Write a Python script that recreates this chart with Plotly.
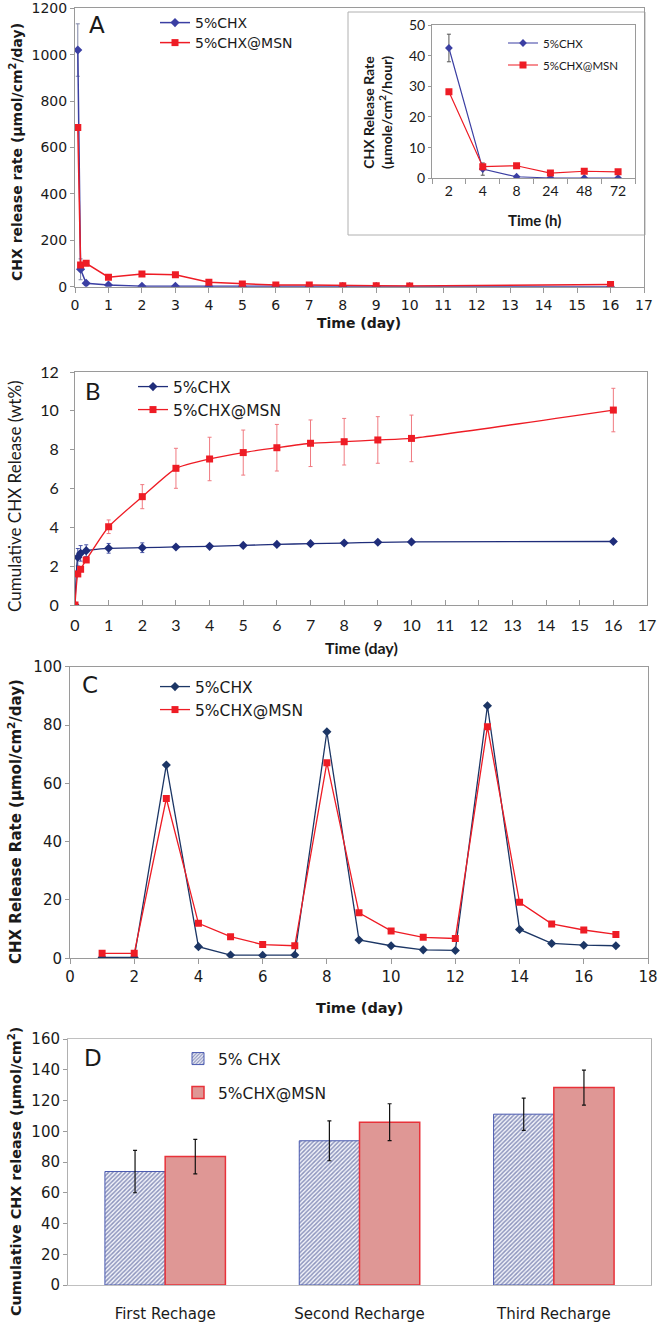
import plotly.graph_objects as go

W, H = 658, 1323

# ---------------- data ----------------
# Panel A (day)
a_x = [2/24, 4/24, 8/24, 1, 2, 3, 4, 5, 6, 7, 8, 9, 10, 16]
a_chx = [1020, 75, 15, 7, 2, 1.5, 1, 1, 1, 1, 1, 1, 1, 0]
a_chx_err = [113, 45, 0, 0, 0, 0, 0, 0, 0, 0, 0, 0, 0, 0]
a_msn = [686, 94, 101, 41, 55, 51, 19, 12, 7, 7, 4, 4, 3.5, 10]

# Panel A inset (hour)
in_x = ["2", "4", "8", "24", "48", "72"]
in_chx = [42.5, 3.0, 0.5, 0.1, 0.1, 0.1]
in_chx_err = [4.5, 2.0, 0, 0, 0, 0]
in_msn = [28.2, 3.8, 4.1, 1.7, 2.3, 2.1]

# Panel B
b_x = [0, 2/24, 4/24, 8/24, 1, 2, 3, 4, 5, 6, 7, 8, 9, 10, 16]
b_chx = [0, 2.46, 2.66, 2.8, 2.92, 2.95, 2.99, 3.02, 3.07, 3.12, 3.16, 3.19, 3.23, 3.25, 3.27]
b_chx_err = [0, 0.45, 0.4, 0.3, 0.25, 0.25, 0, 0, 0, 0, 0, 0, 0, 0, 0]
b_msn = [0, 1.6, 1.84, 2.32, 4.03, 5.58, 7.04, 7.52, 7.85, 8.1, 8.33, 8.41, 8.5, 8.58, 10.04]
b_msn_err = [0, 0, 0, 0, 0.35, 0.62, 1.03, 1.12, 1.16, 1.2, 1.2, 1.2, 1.2, 1.2, 1.12]

# Panel C
c_x = list(range(1, 18))
c_chx = [0.3, 0.3, 66.3, 4.0, 1.1, 1.0, 1.1, 77.7, 6.3, 4.3, 2.9, 2.7, 86.6, 9.9, 5.1, 4.5, 4.3]
c_msn = [1.7, 1.7, 54.8, 12.0, 7.4, 4.7, 4.3, 67.1, 15.6, 9.4, 7.2, 6.8, 79.4, 19.2, 11.8, 9.7, 8.2]

# Panel D
d_cat = ["First Rechage", "Second Recharge", "Third Recharge"]
d_chx = [73.8, 93.8, 111.1]
d_chx_err = [13.8, 13.0, 10.5]
d_msn = [83.5, 105.9, 128.4]
d_msn_err = [11.2, 12.0, 11.4]

# ---------------- styling ----------------
SANS = "DejaVu Sans, Liberation Sans, Arial, sans-serif"
CAL = "Lato, Open Sans, sans-serif"
BLUE_A = "#3b3fa3"
NAVY = "#1f2d7a"
NAVY_C = "#1c3665"
RED = "#ee1c25"
GRAY = "#9a9a9a"
TXT = "#1a1a1a"


def dx(l, r):
    return [l / W, r / W]


def dy(t, b):
    return [1 - b / H, 1 - t / H]


fig = go.Figure()

# ---- Panel A ----
fig.add_trace(go.Scatter(x=a_x, y=a_chx, mode="lines+markers", name="5%CHX",
                         line=dict(color=BLUE_A, width=1.5),
                         marker=dict(symbol="diamond", size=7, color=BLUE_A),
                         error_y=dict(type="data", array=a_chx_err, color="#7f86a8", thickness=1, width=2),
                         xaxis="x", yaxis="y", legend="legend"))
fig.add_trace(go.Scatter(x=a_x, y=a_msn, mode="lines+markers", name="5%CHX@MSN",
                         line=dict(color=RED, width=1.5),
                         marker=dict(symbol="square", size=7, color=RED),
                         xaxis="x", yaxis="y", legend="legend2"))

# ---- Inset ----
fig.add_trace(go.Scatter(x=in_x, y=in_chx, mode="lines+markers", name="5%CHX",
                         line=dict(color=BLUE_A, width=1.2),
                         marker=dict(symbol="diamond", size=6, color=BLUE_A),
                         error_y=dict(type="data", array=in_chx_err, color="#555", thickness=1, width=2),
                         xaxis="x5", yaxis="y5", legend="legend3"))
fig.add_trace(go.Scatter(x=in_x, y=in_msn, mode="lines+markers", name="5%CHX@MSN",
                         line=dict(color=RED, width=1.2),
                         marker=dict(symbol="square", size=7, color=RED),
                         xaxis="x5", yaxis="y5", legend="legend4"))

# ---- Panel B ----
fig.add_trace(go.Scatter(x=b_x, y=b_chx, mode="lines+markers", name="5%CHX",
                         line=dict(color=NAVY, width=1.3, shape="spline", smoothing=0.5),
                         marker=dict(symbol="diamond", size=7, color=NAVY),
                         error_y=dict(type="data", array=b_chx_err, color="#4a56a8", thickness=1, width=2),
                         xaxis="x2", yaxis="y2", legend="legend5"))
fig.add_trace(go.Scatter(x=b_x, y=b_msn, mode="lines+markers", name="5%CHX@MSN",
                         line=dict(color=RED, width=1.3, shape="spline", smoothing=0.5),
                         marker=dict(symbol="square", size=7, color=RED),
                         error_y=dict(type="data", array=b_msn_err, color="#f07a80", thickness=1, width=2),
                         xaxis="x2", yaxis="y2", legend="legend6"))

# ---- Panel C ----
fig.add_trace(go.Scatter(x=c_x, y=c_chx, mode="lines+markers", name="5%CHX",
                         line=dict(color=NAVY_C, width=1.3),
                         marker=dict(symbol="diamond", size=7, color=NAVY_C),
                         xaxis="x3", yaxis="y3", legend="legend7"))
fig.add_trace(go.Scatter(x=c_x, y=c_msn, mode="lines+markers", name="5%CHX@MSN",
                         line=dict(color=RED, width=1.3),
                         marker=dict(symbol="square", size=7, color=RED),
                         xaxis="x3", yaxis="y3", legend="legend8"))

# ---- Panel D ----
fig.add_trace(go.Bar(x=d_cat, y=d_chx, name="5% CHX",
                     marker=dict(color="white", line=dict(color="#4a5ab0", width=1),
                                 pattern=dict(shape="/", fgcolor="#25337f", bgcolor="#f4f5fb", size=3, solidity=0.5)),
                     error_y=dict(type="data", array=d_chx_err, color="#111", thickness=1.2, width=2),
                     xaxis="x4", yaxis="y4", legend="legend9", offsetgroup="a"))
fig.add_trace(go.Bar(x=d_cat, y=d_msn, name="5%CHX@MSN",
                     marker=dict(color="#df9795", line=dict(color="#e8323a", width=1.5)),
                     error_y=dict(type="data", array=d_msn_err, color="#111", thickness=1.2, width=2),
                     xaxis="x4", yaxis="y4", legend="legend10", offsetgroup="b"))


def axis_common(font, size=14, ticks="outside"):
    return dict(showline=True, linecolor=GRAY, linewidth=1, mirror=True, showgrid=False,
                zeroline=False, ticks=ticks, ticklen=4, tickcolor=GRAY,
                tickfont=dict(family=font, size=size, color=TXT), automargin=False)


xa = axis_common(SANS, 14)
xa.update(domain=dx(75, 644), anchor="y", range=[0, 17], dtick=1, ticklen=5)
ya = axis_common(SANS, 14)
ya.update(domain=dy(8.3, 286.7), anchor="x", range=[0, 1200], dtick=200, ticklen=4)

x5 = axis_common(CAL, 14)
x5.update(domain=dx(432, 635), anchor="y5", type="category", tickson="boundaries", range=[-0.5, 5.5], ticklen=5)
y5 = axis_common(CAL, 14)
y5.update(domain=dy(25, 178.3), anchor="x5", range=[0, 50], dtick=10, ticklen=3)

x2 = axis_common(CAL, 16, ticks="inside")
x2.update(domain=dx(75, 647), anchor="y2", range=[0, 17], dtick=1, ticklen=5, ticklabelstandoff=6)
y2 = axis_common(CAL, 16)
y2.update(domain=dy(372, 605), anchor="x2", range=[0, 12], dtick=2, ticklen=4, ticklabelstandoff=8)

x3 = axis_common(SANS, 15)
x3.update(domain=dx(70, 648), anchor="y3", range=[0, 18], dtick=2, ticklen=5)
y3 = axis_common(SANS, 15)
y3.update(domain=dy(666.7, 958.3), anchor="x3", range=[0, 100], dtick=20, ticklen=4)

x4 = axis_common(SANS, 15)
x4.update(domain=dx(68, 651), anchor="y4", ticks="outside", ticklen=15, tickcolor="rgba(0,0,0,0)",
          linecolor="#c0c0c0")
y4 = axis_common(SANS, 15)
y4.update(domain=dy(1039, 1285), anchor="x4", range=[0, 160], dtick=20, ticklen=4, linecolor="#b0b0b0")


def leg(text_x, row_y, font, size):
    # one legend entry per legend box; text starts ~40px right of the box's left edge
    return dict(x=(text_x - 40) / W, y=1 - row_y / H, xanchor="left", yanchor="middle",
                bgcolor="rgba(0,0,0,0)", font=dict(family=font, size=size, color=TXT),
                itemwidth=30, borderwidth=0)


def txt(text, xp, yp, font, size, angle=0):
    return dict(text=text, x=xp / W, y=1 - yp / H, xref="paper", yref="paper", showarrow=False,
                xanchor="center", yanchor="middle", textangle=angle,
                font=dict(family=font, size=size, color=TXT))


annotations = [
    # panel letters
    txt("A", 97, 25, SANS, 23),
    txt("B", 93, 390, CAL, 24),
    txt("C", 90, 685, SANS, 23),
    txt("D", 93, 1058, SANS, 23),
    # A titles
    txt("<b>CHX release rate (µmol/cm<sup>2</sup>/day)</b>", 16, 152, SANS, 14, -90),
    txt("<b>Time (day)</b>", 359, 323, SANS, 14),
    # inset titles
    txt("<b>CHX Release Rate<br>(µmole/cm<sup>2</sup>/hour)</b>", 378, 113, CAL, 14, -90),
    txt("<b>Time (h)</b>", 534, 220, CAL, 15),
    # B titles
    txt("Cumulative CHX Release (wt%)", 15, 496, CAL, 17, -90),
    txt("<b>Time (day)</b>", 361, 647, CAL, 16),
    # C titles
    txt("<b>CHX Release Rate (µmol/cm<sup>2</sup>/day)</b>", 15, 822, SANS, 15, -90),
    txt("<b>Time (day)</b>", 359, 1008, SANS, 14.5),
    # D title
    txt("<b>Cumulative CHX release (µmol/cm<sup>2</sup>)</b>", 15, 1172, SANS, 14.4, -90),
]

fig.update_layout(
    width=W, height=H, margin=dict(l=0, r=0, t=0, b=0),
    paper_bgcolor="white", plot_bgcolor="white", showlegend=True,
    xaxis=xa, yaxis=ya, xaxis5=x5, yaxis5=y5, xaxis2=x2, yaxis2=y2,
    xaxis3=x3, yaxis3=y3, xaxis4=x4, yaxis4=y4,
    barmode="group", bargap=0.38, bargroupgap=0,
    legend=leg(195, 23, SANS, 14),
    legend2=leg(195, 43, SANS, 14),
    legend3=leg(543, 43, CAL, 11.5),
    legend4=leg(543, 65, CAL, 11.5),
    legend5=leg(173, 387, SANS, 15.5),
    legend6=leg(173, 410, SANS, 15.5),
    legend7=leg(195, 687, SANS, 15.5),
    legend8=leg(195, 710, SANS, 15.5),
    legend9=leg(218, 1059, SANS, 15.5),
    legend10=leg(218, 1093, SANS, 15.5),
    shapes=[dict(type="rect", xref="paper", yref="paper",
                 x0=348 / W, x1=645 / W, y0=1 - 235 / H, y1=1 - 12 / H,
                 line=dict(color="#b0b0b0", width=1), fillcolor="rgba(0,0,0,0)", layer="below")],
    annotations=annotations,
)

fig.write_html("out.html", config={"displayModeBar": False},
               post_script="document.body.style.margin='0px';document.body.style.overflow='hidden';")
